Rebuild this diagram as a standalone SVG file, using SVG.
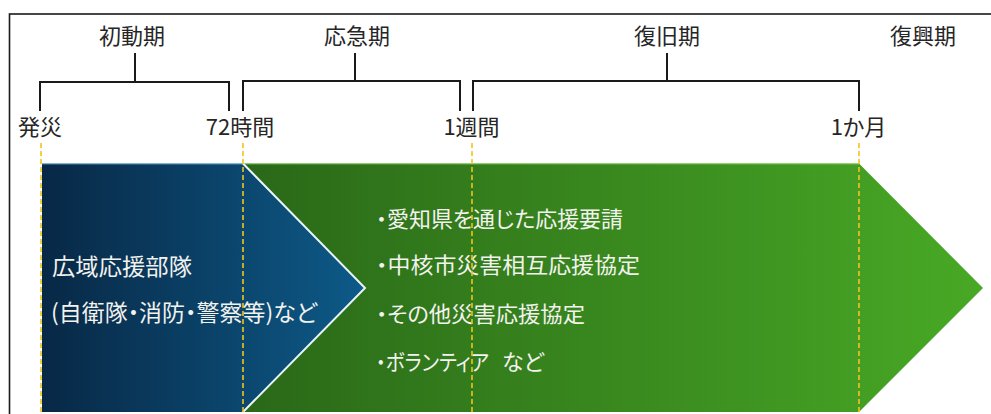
<svg xmlns="http://www.w3.org/2000/svg" width="991" height="414" viewBox="0 0 991 414">
<defs>
<linearGradient id="gBlue" x1="42" y1="0" x2="365" y2="0" gradientUnits="userSpaceOnUse">
<stop offset="0" stop-color="#082846"/>
<stop offset="1" stop-color="#0d5a88"/>
</linearGradient>
<linearGradient id="gGreen" x1="243" y1="0" x2="983" y2="0" gradientUnits="userSpaceOnUse">
<stop offset="0" stop-color="#2a6818"/>
<stop offset="1" stop-color="#48a925"/>
</linearGradient>
<style>
text{font-family:"Noto Sans CJK JP","Noto Sans",sans-serif;font-feature-settings:"palt" 1;}
.dark{fill:#262626;font-size:22px;text-anchor:middle;}
.light{fill:#f2f2ee;font-size:22px;}
.br{fill:none;stroke:#1a1a1a;stroke-width:2;}
.dash{stroke:#f0c419;stroke-width:1.6;stroke-dasharray:5 3;fill:none;}
</style>
</defs>
<rect x="0" y="0" width="991" height="414" fill="#ffffff"/>
<rect id="frame" x="9.5" y="14" width="1000" height="420" fill="none" stroke="#1a1a1a" stroke-width="1.6"/>

<g id="green-arrow">
<polygon points="243,163.5 859,163.5 983,288 859,412 243,412" fill="url(#gGreen)"/>
<line x1="243" y1="163.8" x2="859" y2="163.8" stroke="#8fcf70" stroke-width="1"/>
<text class="light" x="376" y="227" textLength="247" lengthAdjust="spacingAndGlyphs">・愛知県を通じた応援要請</text>
<text class="light" x="376" y="273" textLength="264" lengthAdjust="spacingAndGlyphs">・中核市災害相互応援協定</text>
<text class="light" x="376" y="322" textLength="209" lengthAdjust="spacingAndGlyphs">・その他災害応援協定</text>
<text class="light" x="376" y="370" textLength="113" lengthAdjust="spacingAndGlyphs">・ボランティア</text>
<text class="light" x="502" y="370">など</text>
</g>

<g id="blue-arrow">
<polygon points="42,163.5 243,163.5 365,288 243,412 42,412" fill="url(#gBlue)"/>
<line x1="42" y1="163.8" x2="243" y2="163.8" stroke="#7fc0e0" stroke-width="1"/>
<polyline points="243,163.5 365,288 243,412" fill="none" stroke="#e8f4f8" stroke-width="2"/>
<text class="light" x="52" y="275" style="font-size:23px" textLength="140" lengthAdjust="spacingAndGlyphs">広域応援部隊</text>
<text class="light" x="51" y="321" style="font-size:23px" textLength="266" lengthAdjust="spacingAndGlyphs">(自衛隊・消防・警察等)など</text>
</g>

<g id="connectors">
<path class="br" d="M135,53 V82 M40,111 V82 H229 V111"/>
<path class="br" d="M355,53 V81 M243,111 V81 H460 V111"/>
<path class="br" d="M667,53 V81 M473,111 V81 H859 V111"/>
<line class="dash" x1="41" y1="143" x2="41" y2="414"/>
<line class="dash" x1="243" y1="143" x2="243" y2="414"/>
<line class="dash" x1="472" y1="143" x2="472" y2="414"/>
<line class="dash" x1="859" y1="143" x2="859" y2="414"/>
</g>

<g id="period-initial"><text class="dark" x="132" y="44">初動期</text></g>
<g id="period-emergency"><text class="dark" x="357" y="44">応急期</text></g>
<g id="period-recovery"><text class="dark" x="667" y="44">復旧期</text></g>
<g id="period-reconstruction"><text class="dark" x="923" y="44">復興期</text></g>

<g id="time-disaster"><text class="dark" x="40" y="135">発災</text></g>
<g id="time-72h"><text class="dark" x="240" y="135">72時間</text></g>
<g id="time-1w"><text class="dark" x="471.5" y="135">1週間</text></g>
<g id="time-1m"><text class="dark" x="858.5" y="135">1か月</text></g>
</svg>
